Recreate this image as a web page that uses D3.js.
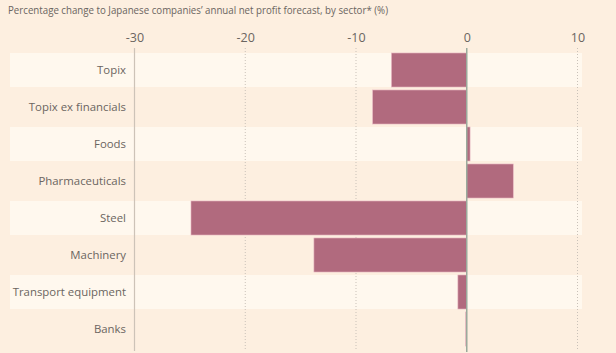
<!DOCTYPE html>
<html><head><meta charset="utf-8">
<script src="https://cdn.jsdelivr.net/npm/d3@7"></script>
<style>
html,body{margin:0;padding:0;background:#fdefe0;}
svg{display:block;}
text{font-family:"Open Sans",sans-serif;fill:#6b6560;}
</style></head>
<body>
<script>
const categories = ["Topix","Topix ex financials","Foods","Pharmaceuticals","Steel","Machinery","Transport equipment","Banks"];
const values = [-6.8,-8.5,0.3,4.2,-24.9,-13.8,-0.8,-0.1];
const ticks = [-30,-20,-10,0,10];
const title = "Percentage change to Japanese companies\u2019 annual net profit forecast, by sector* (%)";

const W = 616, H = 353;
const svg = d3.select("body").append("svg").attr("width",W).attr("height",H);
svg.append("rect").attr("width",W).attr("height",H).attr("fill","#fdefe0");

const x = d3.scaleLinear().domain([-30,10]).range([134.5,577.5]);
const y = d3.scaleBand().domain(categories).range([51.5,347.5]).paddingInner(0.08).paddingOuter(0.04);

svg.append("text").attr("x",8).attr("y",14).attr("font-size",11.6)
  .attr("textLength",380).attr("lengthAdjust","spacingAndGlyphs").text(title);

// stripes
svg.selectAll("rect.stripe").data(categories.filter((d,i)=>i%2===0)).join("rect")
  .attr("class","stripe").attr("x",10).attr("width",572)
  .attr("y",d=>y(d)).attr("height",y.bandwidth()).attr("fill","#fff8ee");

// gridlines
svg.selectAll("line.grid").data(ticks.filter(t=>t!==0 && t!==-30)).join("line")
  .attr("class","grid").attr("x1",d=>x(d)).attr("x2",d=>x(d)).attr("y1",48).attr("y2",351)
  .attr("stroke","#c9c1b8").attr("stroke-dasharray","1,2").attr("stroke-width",1);
svg.append("line").attr("x1",x(-30)).attr("x2",x(-30)).attr("y1",48).attr("y2",351)
  .attr("stroke","#cdc3b8").attr("stroke-width",1.2);

// tick labels
const axis = d3.axisTop(x).tickValues(ticks).tickSize(0).tickPadding(0).tickFormat(d=>String(d));
const ga = svg.append("g").attr("transform","translate(0,42)").call(axis);
ga.select(".domain").remove();
ga.selectAll("text").attr("font-size",12.5).attr("fill","#6b6560").style("font-family","Open Sans, sans-serif");

// bars
svg.selectAll("rect.bar").data(values).join("rect").attr("class","bar")
  .attr("x",d=>x(Math.min(0,d))).attr("width",d=>Math.abs(x(d)-x(0)))
  .attr("y",(d,i)=>y(categories[i])).attr("height",y.bandwidth())
  .attr("fill","#b16a7e").attr("stroke","#e8b9c3").attr("stroke-width",0.6);

// zero line
svg.append("line").attr("x1",x(0)).attr("x2",x(0)).attr("y1",48).attr("y2",352)
  .attr("stroke","#9aaa9c").attr("stroke-width",1.5);

// category labels
const yl = d3.axisLeft(y).tickSize(0).tickPadding(0);
const gy = svg.append("g").attr("transform","translate(126,0)").call(yl);
gy.select(".domain").remove();
gy.selectAll("text").attr("font-size",11.4).attr("fill","#6b6560").style("font-family","Open Sans, sans-serif");
</script>
</body></html>
